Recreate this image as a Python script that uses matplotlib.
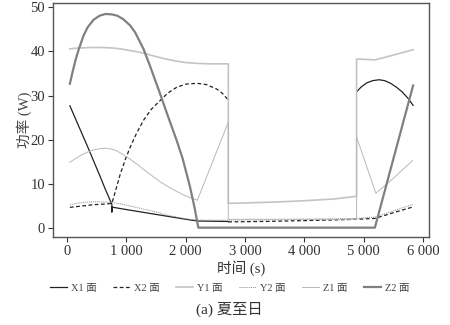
import numpy as np
import matplotlib
matplotlib.use('Agg')
import matplotlib.pyplot as plt

nan = np.nan

# 各面发电功率随时间变化（夏至日）
x1_t = [50, 150, 250, 350, 450, 550, 650, 757, 757, 760, 1000, 1500, 2000, 2200, 2718,
        2718, 4890, 4950, 5050, 5150, 5258, 5350, 5450, 5550, 5650, 5750, 5830]
x1_p = [27.7, 24.6, 21.5, 18.4, 15.2, 12.0, 8.7, 5.4, 3.6, 4.75, 4.2, 3.1, 2.0, 1.6, 1.5,
        nan, 31.0, 31.9, 32.9, 33.4, 33.6, 33.4, 32.8, 31.9, 30.8, 29.3, 27.8]

x2_t = [50, 250, 450, 650, 757, 820, 900, 980, 1065, 1170, 1289, 1420, 1570, 1700, 1850,
        2000, 2190, 2350, 2523, 2620, 2718,
        2718, 2718, 3000, 3500, 4000, 4500, 4880, 5190, 5500, 5830]
x2_p = [4.7, 5.0, 5.3, 5.45, 5.6, 8.5, 12.3, 15.4, 18.3, 21.4, 24.4, 26.9, 28.9, 30.6, 31.9,
        32.6, 32.8, 32.5, 31.5, 30.5, 29.0,
        nan, 1.4, 1.45, 1.55, 1.7, 1.85, 2.0, 2.2, 3.5, 4.8]

y1_t = [50, 200, 400, 600, 757, 900, 1065, 1200, 1289, 1430, 1570, 1700, 1850, 2000, 2200,
        2400, 2718, 2718, 3000, 3500, 4000, 4500, 4878, 4878, 5190, 5500, 5830]
y1_p = [40.6, 40.8, 40.9, 40.9, 40.8, 40.6, 40.2, 39.9, 39.6, 39.1, 38.6, 38.2, 37.8, 37.5, 37.3,
        37.2, 37.2, 5.6, 5.7, 5.9, 6.2, 6.6, 7.2, 38.3, 38.1, 39.2, 40.4]

y2_t = [50, 200, 336, 500, 650, 757, 900, 1065, 1200, 1289, 1430, 1570, 1700, 1850, 2000,
        2197, 2718, 3500, 4500, 4880, 5190, 5350, 5500, 5650, 5830]
y2_p = [5.3, 5.7, 5.9, 5.95, 5.9, 5.8, 5.5, 5.0, 4.6, 4.3, 3.9, 3.4, 2.9, 2.5, 2.1,
        1.8, 1.8, 1.9, 2.1, 2.2, 2.5, 3.2, 3.9, 4.6, 5.4]

z1_t = [50, 150, 250, 350, 450, 560, 650, 750, 841, 950, 1065, 1180, 1289, 1430, 1570, 1700,
        1850, 2000, 2197, 2718, 2718, 3500, 4500, 4878, 4878, 5203, 5500, 5820]
z1_p = [14.9, 15.8, 16.6, 17.2, 17.7, 18.0, 18.1, 17.9, 17.5, 16.6, 15.6, 14.5, 13.3, 11.9,
        10.5, 9.4, 8.3, 7.3, 6.3, 24.0, 2.0, 2.0, 2.0, 2.0, 20.6, 7.9, 11.3, 15.3]

z2_t = [50, 100, 150, 200, 280, 350, 450, 550, 650, 757, 850, 950, 1065, 1150, 1289, 1400,
        1500, 1570, 1700, 1850, 1950, 2074, 2150, 2213, 3000, 4000, 5186, 5500, 5830]
z2_p = [32.7, 35.6, 38.3, 40.5, 43.6, 45.5, 47.2, 48.1, 48.5, 48.4, 48.1, 47.3, 45.9, 44.3,
        40.6, 36.7, 33.0, 30.4, 25.4, 19.8, 15.7, 9.3, 4.6, 0.1, 0.1, 0.1, 0.1, 15.8, 32.3]

x_ticks = [0, 1000, 2000, 3000, 4000, 5000, 6000]
x_tick_labels = ['0', '1 000', '2 000', '3 000', '4 000', '5 000', '6 000']
y_ticks = [0, 10, 20, 30, 40, 50]

plt.rcParams['font.family'] = ['Liberation Serif', 'Noto Sans CJK SC']

fig = plt.figure(figsize=(4.5, 3.25), dpi=100)
ax = fig.add_axes([0.117, 0.271, 0.836, 0.720])

ax.plot(x1_t, x1_p, color='#222222', lw=0.9, label='X1 面')
ax.plot(x2_t, x2_p, color='#222222', lw=0.9, ls=(0, (3, 2)), label='X2 面')
ax.plot(y1_t, y1_p, color='#c4c4c4', lw=1.2, label='Y1 面')
ax.plot(y2_t, y2_p, color='#8c8c8c', lw=0.7, ls=(0, (1, 1)), label='Y2 面')
ax.plot(z1_t, z1_p, color='#b8b8b8', lw=0.7, label='Z1 面')
ax.plot(z2_t, z2_p, color='#808080', lw=1.6, label='Z2 面')

ax.set_xlim(-240, 6095)
ax.set_ylim(-2, 51)
ax.set_xticks(x_ticks)
ax.set_xticklabels(x_tick_labels)
ax.set_yticks(y_ticks)
ax.tick_params(direction='out', length=3.5, width=0.8, colors='#333333',
               labelsize=10.5, pad=2)
for sp in ax.spines.values():
    sp.set_color('#555555')
    sp.set_linewidth(1.0)

ax.set_xlabel('时间 (s)', fontsize=10.5, color='#333333', labelpad=2)
ax.set_ylabel('功率 (W)', fontsize=10.5, color='#444444', labelpad=-1)

fig.legend(loc='center', bbox_to_anchor=(0.51, 0.114), ncol=6, frameon=False,
           fontsize=7.5, handlelength=1.6, handletextpad=0.4, columnspacing=1.6,
           labelcolor='#444444')

fig.text(0.51, 0.049, '(a) 夏至日', ha='center', va='center', fontsize=11,
         color='#333333')

fig.savefig('out.png', dpi=100)
